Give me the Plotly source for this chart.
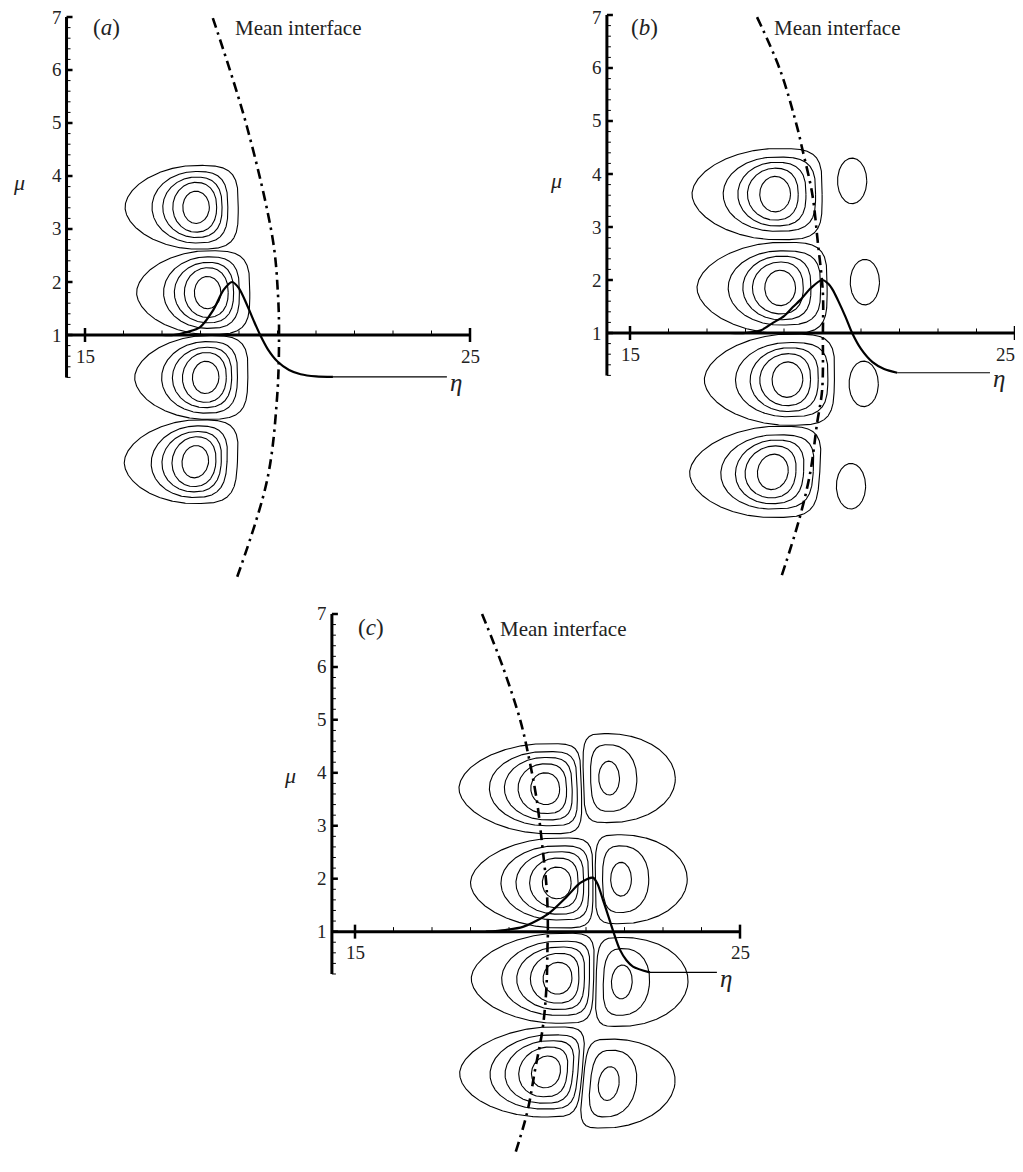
import numpy as np
import plotly.graph_objects as go

# the page puts the figure 8px in from the top-left corner (body margin);
# keep the figure inside the visible part of the window
OFF = 8
W, H = 1023 - 2 * OFF, 1146
PX_ETA = 38.5     # pixels per unit eta (same in all panels)
PX_MU = 53.0      # pixels per unit mu
FONT = "Liberation Serif"
INK = "#222222"

# ---------------- panel (a) ----------------
a_cell_eta = [17.88, 18.18, 18.13, 17.86]
a_cell_mu = [3.41, 1.80, 0.20, -1.39]
a_cell_shear = [0.0, 0.0, 0.03, 0.08]
# loop extents, inner -> outer
a_left = [0.34, 0.60, 0.86, 1.14, 1.84]
a_right = [0.35, 0.54, 0.68, 0.83, 1.10]
a_half = [0.305, 0.47, 0.57, 0.675, 0.79]
a_nl = [2.0, 2.0, 2.0, 2.0, 1.85]
a_nr = [2.0, 2.3, 2.6, 3.0, 3.6]

a_iface_eta = [18.32, 19.21, 19.88, 20.01, 20.04, 19.99, 19.73, 18.95]
a_iface_mu = [6.98, 4.92, 2.79, 1.79, 1.0, -0.17, -1.74, -3.57]

a_prof_eta = [17.0, 17.3, 17.68, 17.99, 18.33, 18.6, 18.82, 19.0, 19.2, 19.4,
              19.55, 19.75, 20.0, 20.3, 20.6, 21.0, 21.44]
a_prof_mu = [1.0, 1.0, 1.06, 1.15, 1.47, 1.85, 2.0, 1.88, 1.58, 1.24,
             1.0, 0.73, 0.5, 0.34, 0.26, 0.22, 0.21]
a_tail_end = 24.4

# ---------------- panel (b) ----------------
b_cell_eta = [18.77, 18.90, 19.09, 18.71]
b_cell_mu = [3.62, 1.85, 0.12, -1.62]
b_cell_shear = [0.0, 0.0, 0.03, 0.10]
b_left = [0.40, 0.72, 0.97, 1.35, 2.16]
b_right = [0.40, 0.60, 0.80, 1.05, 1.22]
b_half = [0.335, 0.49, 0.60, 0.70, 0.86]
b_nl = [2.0, 2.0, 2.0, 2.0, 1.85]
b_nr = [2.0, 2.4, 2.8, 3.3, 4.0]

b_small_eta = [20.77, 21.10, 21.07, 20.74]
b_small_mu = [3.87, 1.96, 0.04, -1.89]
b_small_left = [0.38]
b_small_right = [0.38]
b_small_half = [0.43]
b_small_nl = [2.0]
b_small_nr = [2.0]

b_iface_eta = [18.30, 18.90, 19.34, 19.47, 19.73, 19.88, 20.01, 20.01, 19.99,
               19.86, 19.68, 19.39, 18.93]
b_iface_mu = [6.96, 5.96, 4.89, 4.49, 3.64, 2.70, 1.75, 1.0, -0.08,
              -0.70, -1.64, -2.53, -3.60]

b_prof_eta = [17.6, 18.0, 18.4, 18.71, 19.0, 19.23, 19.42, 19.7, 19.99, 20.15,
              20.27, 20.4, 20.6, 20.77, 21.0, 21.3, 21.6, 21.94]
b_prof_mu = [1.0, 1.0, 1.05, 1.19, 1.32, 1.49, 1.62, 1.85, 2.0, 1.93,
             1.81, 1.62, 1.3, 1.0, 0.7, 0.45, 0.32, 0.25]
b_tail_end = 24.35

# ---------------- panel (c) ----------------
c_cell_eta = [19.94, 20.24, 20.26, 19.96]
c_cell_mu = [3.70, 1.92, 0.12, -1.65]
c_cell_shear = [-0.03, 0.0, 0.05, 0.14]
c_left = [0.375, 0.705, 1.06, 1.45, 2.24]
c_right = [0.375, 0.555, 0.70, 0.83, 0.94]
c_half = [0.30, 0.47, 0.59, 0.70, 0.85]
c_nl = [2.0, 2.0, 2.0, 2.0, 1.85]
c_nr = [2.2, 2.8, 3.4, 4.2, 5.0]

c_side_eta = [21.60, 21.91, 21.93, 21.59]
c_side_mu = [3.90, 1.99, 0.05, -1.87]
c_side_shear = [-0.03, 0.0, 0.05, 0.14]
c_side_left = [0.27, 0.48, 0.67]
c_side_right = [0.27, 0.72, 1.72]
c_side_half = [0.32, 0.63, 0.84]
c_side_nl = [2.0, 3.0, 4.5]
c_side_nr = [2.0, 2.2, 2.0]

c_iface_eta = [18.30, 18.84, 19.29, 19.49, 19.72, 19.86, 19.98, 20.01, 20.0,
               19.97, 19.87, 19.68, 19.47, 19.03]
c_iface_mu = [7.0, 6.0, 5.0, 4.38, 3.49, 2.65, 1.79, 1.0, 0.72,
              -0.09, -0.85, -1.6, -2.42, -3.49]

c_prof_eta = [18.4, 18.9, 19.36, 19.7, 20.06, 20.5, 20.85, 21.18, 21.3, 21.44,
              21.55, 21.71, 21.88, 22.05, 22.22, 22.66]
c_prof_mu = [1.0, 1.03, 1.09, 1.2, 1.36, 1.66, 1.92, 2.02, 1.9, 1.6,
             1.36, 1.0, 0.66, 0.46, 0.34, 0.23]
c_tail_end = 24.4

# axis ticks
mu_major = [1, 2, 3, 4, 5, 6, 7]
mu_minor = [round(0.2 * k, 1) for k in range(1, 35) if k % 5 != 0]
eta_major = [15, 25]
eta_minor = [16, 17, 18, 19, 20, 21, 22, 23, 24]


def cell_loops(etas, mus, shears, left, right, half, nl, nr):
    """closed streamline loops of a row of cells, joined with None gaps"""
    th = np.linspace(0, 2 * np.pi, 481)
    c, s = np.cos(th), np.sin(th)
    xs, ys = [], []
    for ec, mc, sh in zip(etas, mus, shears):
        for L, R, T, a, b in zip(left, right, half, nl, nr):
            n = np.where(c >= 0, b, a)
            ext = np.where(c >= 0, R, L)
            dx = np.sign(c) * np.abs(c) ** (2 / n) * ext
            dy = np.sign(s) * np.abs(s) ** (2 / n) * T
            xs += list(np.round(ec + dx + sh * dy, 4)) + [None]
            ys += list(np.round(mc + dy, 4)) + [None]
    return xs, ys


panels = [
    dict(tag="a", origin=(85, 335), axis_eta=14.52, erange=(13.0, 26.0), mrange=(-4.2, 7.15),
         groups=[(a_cell_eta, a_cell_mu, a_cell_shear, a_left, a_right, a_half, a_nl, a_nr)],
         iface=(a_iface_eta, a_iface_mu), prof=(a_prof_eta, a_prof_mu), tail=a_tail_end,
         tag_pos=(15.15, 6.8), mean_pos=(18.84, 6.79), mu_lab=(13.29, 3.88), xs25=0),
    dict(tag="b", origin=(630, 333), axis_eta=14.40, erange=(12.9, 25.0), mrange=(-4.2, 7.12),
         groups=[(b_cell_eta, b_cell_mu, b_cell_shear, b_left, b_right, b_half, b_nl, b_nr),
                 (b_small_eta, b_small_mu, [0, 0, 0, 0], b_small_left, b_small_right,
                  b_small_half, b_small_nl, b_small_nr)],
         iface=(b_iface_eta, b_iface_mu), prof=(b_prof_eta, b_prof_mu), tail=b_tail_end,
         tag_pos=(14.98, 6.77), mean_pos=(18.69, 6.76), mu_lab=(13.09, 3.88), xs25=-10),
    dict(tag="c", origin=(355, 932), axis_eta=14.40, erange=(13.0, 26.0), mrange=(-3.2, 7.3),
         groups=[(c_cell_eta, c_cell_mu, c_cell_shear, c_left, c_right, c_half, c_nl, c_nr),
                 (c_side_eta, c_side_mu, c_side_shear, c_side_left, c_side_right,
                  c_side_half, c_side_nl, c_side_nr)],
         iface=(c_iface_eta, c_iface_mu), prof=(c_prof_eta, c_prof_mu), tail=c_tail_end,
         tag_pos=(15.03, 6.74), mean_pos=(18.71, 6.72), mu_lab=(13.3, 3.95), xs25=0),
]

fig = go.Figure()
annotations = []
layout = dict(width=W, height=H, margin=dict(l=0, r=0, t=0, b=0),
              paper_bgcolor="white", plot_bgcolor="rgba(0,0,0,0)", showlegend=False)


def segs(pairs):
    xs, ys = [], []
    for (x0, y0), (x1, y1) in pairs:
        xs += [x0, x1, None]
        ys += [y0, y1, None]
    return xs, ys


for i, p in enumerate(panels):
    n = "" if i == 0 else str(i + 1)
    xr, yr = "x" + n, "y" + n
    ox, oy = p["origin"]
    e0, e1 = p["erange"]
    m0, m1 = p["mrange"]
    xdom = [(ox - OFF + PX_ETA * (e0 - 15)) / W, (ox - OFF + PX_ETA * (e1 - 15)) / W]
    ydom = [1 - (oy - OFF - PX_MU * (m0 - 1)) / H, 1 - (oy - OFF - PX_MU * (m1 - 1)) / H]
    layout["xaxis" + n] = dict(domain=[max(0, xdom[0]), min(1, xdom[1])], range=[e0, e1],
                               visible=False, anchor=yr, fixedrange=True)
    layout["yaxis" + n] = dict(domain=[max(0, ydom[0]), min(1, ydom[1])], range=[m0, m1],
                               visible=False, anchor=xr, fixedrange=True)

    # streamline loops
    for g in p["groups"]:
        xs, ys = cell_loops(*g)
        fig.add_trace(go.Scatter(x=xs, y=ys, mode="lines",
                                 line=dict(color="black", width=1.1),
                                 hoverinfo="skip", xaxis=xr, yaxis=yr))

    ax = p["axis_eta"]
    tl_e = 1.0 / PX_ETA
    tl_m = 1.0 / PX_MU
    # axes
    fig.add_trace(go.Scatter(x=[ax, ax, None, ax, 25], y=[0.2, 7, None, 1, 1], mode="lines",
                             line=dict(color="black", width=3), hoverinfo="skip",
                             xaxis=xr, yaxis=yr))
    xs, ys = segs([((ax, m), (ax + 6 * tl_e, m)) for m in mu_major] +
                  [((e, 1 - 7 * tl_m), (e, 1 + 7 * tl_m)) for e in eta_major])
    fig.add_trace(go.Scatter(x=xs, y=ys, mode="lines", line=dict(color="black", width=2.5),
                             hoverinfo="skip", xaxis=xr, yaxis=yr))
    xs, ys = segs([((ax, m), (ax + 4 * tl_e, m)) for m in mu_minor] +
                  [((e, 1), (e, 1 + 4.5 * tl_m)) for e in eta_minor])
    fig.add_trace(go.Scatter(x=xs, y=ys, mode="lines", line=dict(color="black", width=1),
                             hoverinfo="skip", xaxis=xr, yaxis=yr))

    # mean interface
    fig.add_trace(go.Scatter(x=p["iface"][0], y=p["iface"][1], mode="lines",
                             line=dict(color="black", width=2.6, dash="10px,5px,2.5px,5px",
                                       shape="spline", smoothing=1.0),
                             hoverinfo="skip", xaxis=xr, yaxis=yr))
    # profile + thin tail
    pe, pm = p["prof"]
    fig.add_trace(go.Scatter(x=pe, y=pm, mode="lines",
                             line=dict(color="black", width=2.2, shape="spline", smoothing=0.8),
                             hoverinfo="skip", xaxis=xr, yaxis=yr))
    fig.add_trace(go.Scatter(x=[pe[-1], p["tail"]], y=[pm[-1], pm[-1]], mode="lines",
                             line=dict(color="black", width=1.1),
                             hoverinfo="skip", xaxis=xr, yaxis=yr))

    f19 = dict(family=FONT, size=19, color=INK)
    top_px = oy - PX_MU * 6          # page row of the "7" tick
    for m in mu_major:
        annotations.append(dict(x=ax, y=m, xref=xr, yref=yr, text=str(m), showarrow=False,
                                xanchor="right", yanchor="middle", xshift=-3,
                                yshift=min(0, top_px - 18) if m == 7 else 0, height=15,
                                font=f19))
    for e in eta_major:
        annotations.append(dict(x=e, y=1, xref=xr, yref=yr, text=str(e), showarrow=False,
                                xanchor="center", yanchor="middle", yshift=-21, height=13,
                                xshift=p["xs25"] if e == 25 else 0, font=f19))
    annotations.append(dict(x=p["mu_lab"][0], y=p["mu_lab"][1], xref=xr, yref=yr,
                            text="<i>μ</i>", showarrow=False, xanchor="center",
                            yanchor="middle", font=dict(family=FONT, size=22, color=INK)))
    annotations.append(dict(x=p["tail"], y=pm[-1], xref=xr, yref=yr, text="<i>η</i>",
                            showarrow=False, xanchor="left", yanchor="middle", xshift=1,
                            yshift=-6, font=dict(family=FONT, size=25, color=INK)))
    annotations.append(dict(x=p["tag_pos"][0], y=p["tag_pos"][1], xref=xr, yref=yr,
                            text="(<i>%s</i>)" % p["tag"], showarrow=False,
                            xanchor="left", yanchor="middle",
                            font=dict(family=FONT, size=23, color=INK)))
    annotations.append(dict(x=p["mean_pos"][0], y=p["mean_pos"][1], xref=xr, yref=yr,
                            text="Mean interface", showarrow=False,
                            xanchor="left", yanchor="middle",
                            font=dict(family=FONT, size=21, color=INK)))

layout["annotations"] = annotations
fig.update_layout(**layout)
fig.write_html("out.html")
